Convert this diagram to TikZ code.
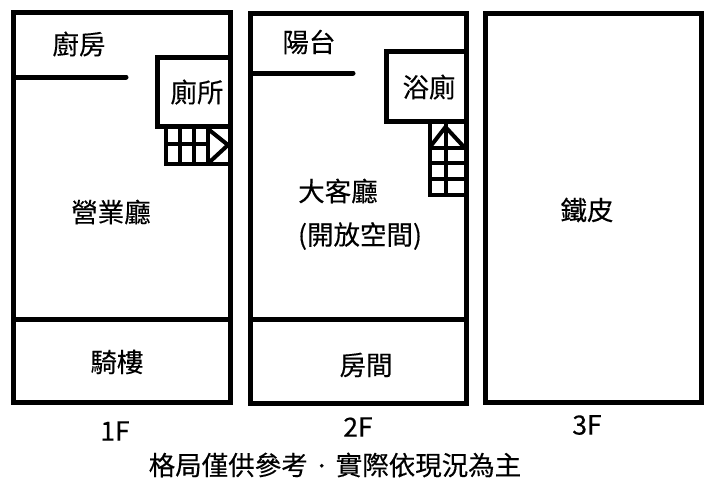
\documentclass[tikz,border=0pt]{standalone}
\usepackage{fontspec}
\setmainfont[FakeBold=0.25]{Noto Sans CJK TC}
\begin{document}
\begin{tikzpicture}[x=1pt,y=-1pt,
        wall/.style={draw,line width=5pt,line join=miter},
        stair/.style={draw,line width=4pt},
        room/.style={font=\fontsize{26.5}{26.5}\selectfont\addfontfeature{FakeBold=0.25},inner sep=0pt},
        floorname/.style={font=\fontsize{26.5}{26.5}\selectfont\addfontfeature{FakeBold=0.25},inner sep=0pt}]
    \useasboundingbox (0,0) rectangle (721,482);
    % 1F
    \draw[wall] (13.5,12.5) rectangle (230,402.5);
    \draw[wall] (11,319.5) -- (230,319.5);
    \draw[wall,line cap=round] (16,77) -- (126,77);
    \draw[wall] (228,57.5) -- (157,57.5) -- (157,126) -- (228,126);
    \draw[stair] (165.5,126) -- (165.5,163.5) -- (228,163.5);
    \draw[stair] (165.5,144) -- (207,144);
    \draw[stair] (180,126) -- (180,163.5) (194,126) -- (194,163.5) (208,126) -- (208,163.5);
    \draw[stair] (208,129) -- (228,145) -- (208,163.5);
    % 2F
    \draw[wall] (250,13.5) rectangle (466.5,403.5);
    \draw[wall] (250,319.5) -- (466.5,319.5);
    \draw[wall,line cap=round] (253,73) -- (353,73);
    \draw[wall] (464,51.5) -- (386,51.5) -- (386,121) -- (464,121);
    \draw[stair] (429.5,121) -- (429.5,195) -- (464,195);
    \draw[stair] (429.5,147.5) -- (464,147.5) (429.5,163) -- (464,163) (429.5,178.5) -- (464,178.5);
    \draw[stair] (445.5,121) -- (445.5,195);
    \draw[stair] (430,147) -- (445.5,127) -- (464,147);
    % 3F
    \draw[wall] (485.5,13.5) rectangle (701.5,402.5);
    % labels
    \node[room] (chufang) at (79,44) {廚房};
    \node[room] (cesuo) at (197,92) {廁所};
    \node[room] (yingye) at (111,212) {營業廳};
    \node[room] (qilou) at (117,362) {騎樓};
    \node[room] (yangtai) at (309,42) {陽台};
    \node[room] (yuce) at (429,87) {浴廁};
    \node[room] (keting) at (338,191) {大客廳};
    \node[room] (kaifang) at (360,236) {(開放空間)};
    \node[room] (fangjian) at (366,365) {房間};
    \node[room] (tiepi) at (587,210) {鐵皮};
    \node[floorname] (oneF) at (115,431) {1F};
    \node[floorname] (twoF) at (358,427) {2F};
    \node[floorname] (threeF) at (587,425) {3F};
    \node[floorname] (note) at (335,465) {格局僅供參考\hspace{5pt}\raisebox{2.5pt}{\fontsize{18}{18}\selectfont ‧}\hspace{5pt}實際依現況為主};
\end{tikzpicture}
\end{document}
